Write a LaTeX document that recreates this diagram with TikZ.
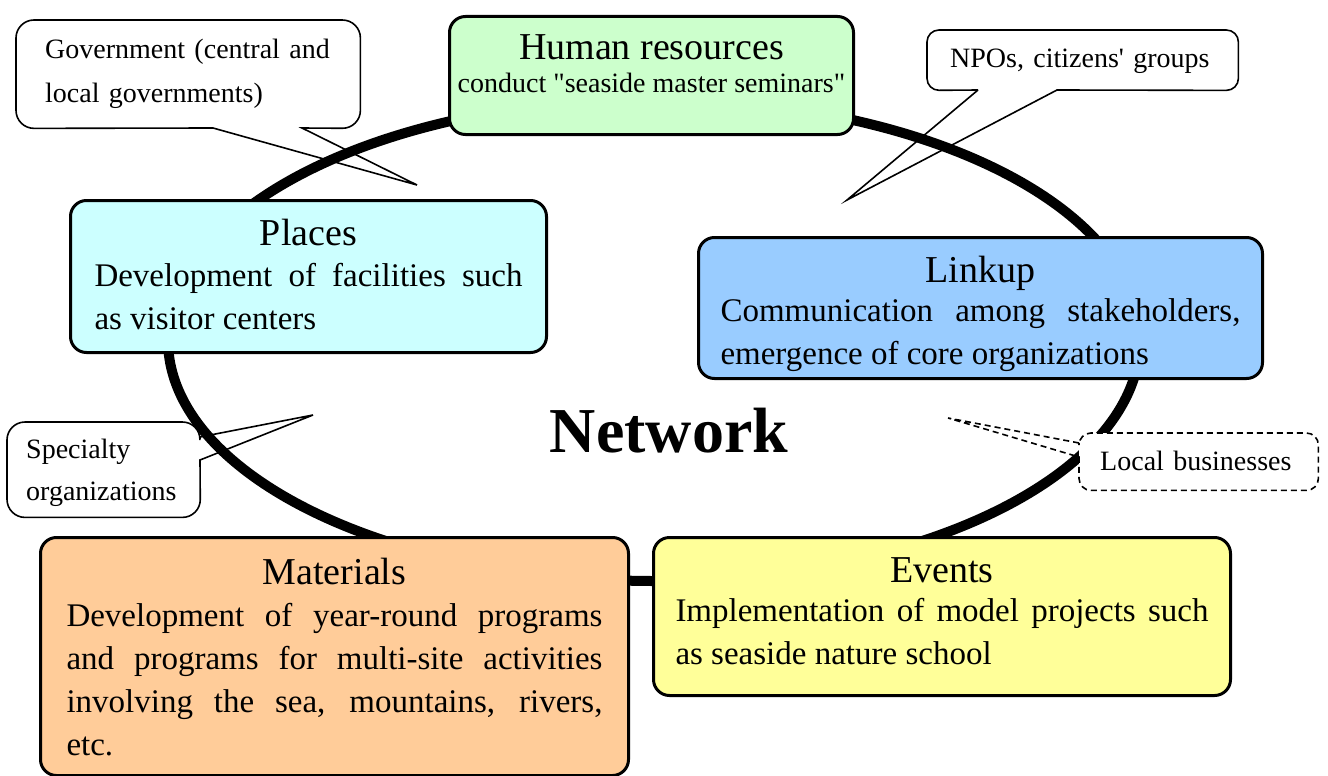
\documentclass[tikz,border=0pt]{standalone}
\usepackage{fontspec}
\setmainfont{Liberation Serif}[Ligatures=TeXOff]
\hyphenpenalty=10000
\exhyphenpenalty=10000
\newcommand{\headfont}{\fontsize{38}{42}\selectfont}
\newcommand{\bodyfont}{\fontsize{33}{43}\selectfont}
\newcommand{\subfont}{\fontsize{28}{33}\selectfont}
\newcommand{\notefont}{\fontsize{28}{44}\selectfont}
\definecolor{humangreen}{HTML}{CCFFCC}
\definecolor{placecyan}{HTML}{CCFFFF}
\definecolor{linkblue}{HTML}{99CCFF}
\definecolor{matorange}{HTML}{FFCC99}
\definecolor{eventyellow}{HTML}{FFFF99}
\begin{document}
\begin{tikzpicture}[x=1pt, y=-1pt,
  resbox/.style={draw, line width=3pt, rounded corners=16pt, inner ysep=0pt, align=justify, anchor=north west},
  callbox/.style={fill=white, rounded corners=18pt, inner ysep=0pt, align=left, anchor=north west, font=\notefont},
  callline/.style={line width=1.6pt},
  ring/.style={line width=10pt}]
\useasboundingbox (0,0) rectangle (1328,776);
% the network ring
\draw[ring] (654,340) ellipse [x radius=486pt, y radius=241pt];
% the five fields
\node[resbox, fill=humangreen, text width=392pt, inner xsep=6pt, text height=43pt, text depth=75pt] (human) at (448,15) {{\headfont\centering Human resources\par}{\subfont\centering conduct "seaside master seminars"\par}};
\node[resbox, fill=placecyan, text width=428pt, inner xsep=24pt, text height=45pt, text depth=107pt] (places) at (69,199) {{\headfont\centering Places\par}\vspace{-2pt}\bodyfont Development of facilities such\linebreak as visitor centers\par};
\node[resbox, fill=linkblue, text width=520pt, inner xsep=22pt, text height=45pt, text depth=96pt] (linkup) at (697,236) {{\headfont\centering Linkup\par}\vspace{-4pt}\bodyfont Communication among stakeholders,\linebreak emergence of core organizations\par};
\node[resbox, fill=matorange, text width=536pt, inner xsep=26pt, text height=47pt, text depth=191pt] (materials) at (39,536) {{\headfont\centering Materials\par}\vspace{-1pt}\bodyfont Development of year-round programs\linebreak and programs for multi-site activities\linebreak involving the sea, mountains, rivers,\linebreak etc.\par};
\node[resbox, fill=eventyellow, text width=533pt, inner xsep=22pt, text height=45pt, text depth=113pt] (events) at (652,536) {{\headfont\centering Events\par}\vspace{-4pt}\bodyfont Implementation of model projects such\linebreak as seaside nature school\par};
\node[font=\fontsize{64}{64}\selectfont\bfseries, anchor=base] (network) at (669,452) {Network};
% callouts
\node[callbox, text width=286pt, inner xsep=29pt, text height=38pt, text depth=70pt] (gov) at (16,20) {Government (central and\\local governments)};
\coordinate (govtip) at (417,185);
\draw[callline] (213,128) [sharp corners]-- (govtip) -- (302,128) [rounded corners=18pt]-- (gov.south east) -- (gov.north east) -- (gov.north west) -- (gov.south west) -- (213,128);
\node[callbox, rounded corners=12pt, text width=265pt, inner xsep=23pt, text height=37pt, text depth=23pt] (npo) at (927,30) {NPOs, citizens' groups};
\coordinate (npotip) at (847,200);
\draw[callline] (978,90) [sharp corners]-- (npotip) -- (1057,90) [rounded corners=12pt]-- (npo.south east) -- (npo.north east) -- (npo.north west) -- (npo.south west) -- (978,90);
\node[callbox, text width=155pt, inner xsep=19pt, text height=36pt, text depth=59pt] (spec) at (7,422) {Specialty\\[-2pt]organizations};
\coordinate (spectip) at (313,415);
\draw[callline] (200,437) [sharp corners]-- (spectip) -- (200,460) [rounded corners=18pt]-- (spec.south east) -- (spec.south west) -- (spec.north west) -- (spec.north east) -- (200,437);
\node[callbox, rounded corners=12pt, text width=197pt, inner xsep=21pt, text height=37pt, text depth=20pt] (local) at (1079,433) {Local businesses};
\coordinate (localtip) at (948,418);
\draw[callline, dashed, dash pattern=on 6pt off 4pt] (1079,443) [sharp corners]-- (localtip) -- (1079,457) [rounded corners=12pt]-- (local.south west) -- (local.south east) -- (local.north east) -- (local.north west) -- (1079,443);
\end{tikzpicture}
\end{document}
